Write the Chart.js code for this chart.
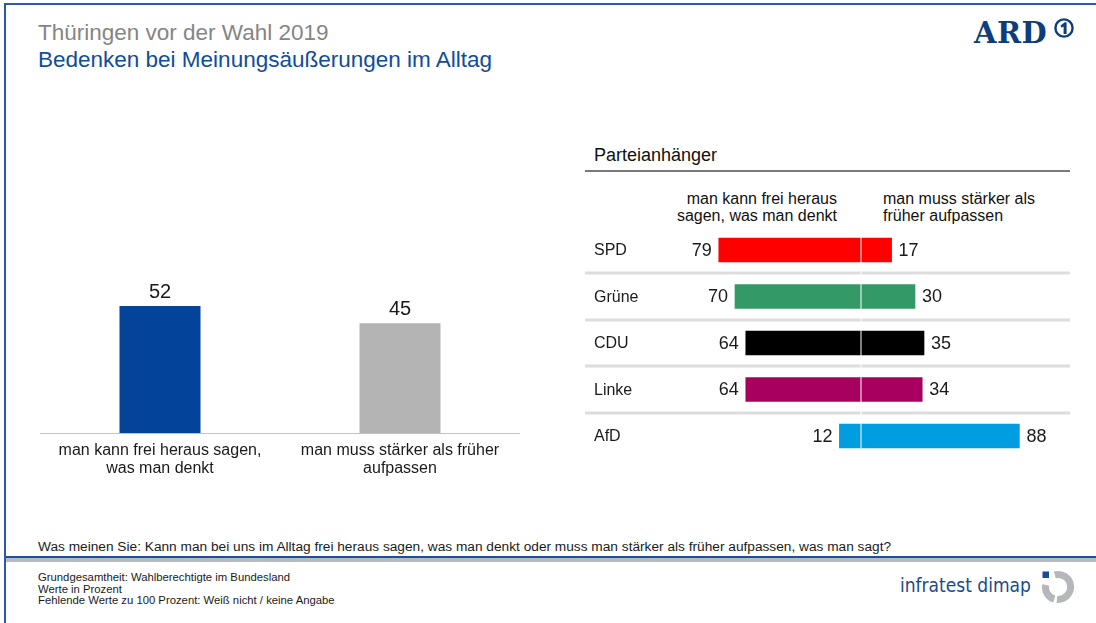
<!DOCTYPE html>
<html>
<head>
<meta charset="utf-8">
<script src="https://cdn.jsdelivr.net/npm/chart.js@4.4.1/dist/chart.umd.min.js"></script>
<style>
  html, body { margin:0; padding:0; background:#fff; }
  body { width:1096px; height:623px; position:relative; overflow:hidden; font-family:'Liberation Sans', Arial, sans-serif; }
  .abs { position:absolute; white-space:nowrap; }
</style>
</head>
<body>
<script>
// ---- data ----
const categories = ['man kann frei heraus sagen, was man denkt', 'man muss stärker als früher aufpassen'];
const categoryTickLabels = [['man kann frei heraus sagen,', 'was man denkt'], ['man muss stärker als früher', 'aufpassen']];
const totalValues = [52, 45];
const totalColors = ['#03449a', '#b4b4b4'];
const parties = ['SPD', 'Grüne', 'CDU', 'Linke', 'AfD'];
const freeValues = [79, 70, 64, 64, 12];
const carefulValues = [17, 30, 35, 34, 88];
const partyColors = ['#ff0000', '#339966', '#000000', '#a8005f', '#009ee0'];
const freeHeader = ['man kann frei heraus', 'sagen, was man denkt'];
const carefulHeader = ['man muss stärker als', 'früher aufpassen'];
</script>

<!-- frame -->
<div class="abs" style="left:4px;top:3px;width:1092px;height:620px;border-left:2px solid #2a5aa8;border-top:2px solid #2a5aa8;"></div>

<div class="abs" style="left:38px;top:20px;font-size:22.5px;line-height:26px;color:#858585;">Thüringen vor der Wahl 2019</div>
<div class="abs" style="left:38px;top:47px;font-size:22.5px;line-height:26px;color:#0f4c9c;">Bedenken bei Meinungsäußerungen im Alltag</div>

<!-- ARD logo -->
<div class="abs" style="left:974px;top:15px;font-family:'DejaVu Serif','Liberation Serif',serif;font-weight:bold;font-size:29px;line-height:36px;color:#0d3d7d;letter-spacing:0.5px;">ARD</div>
<svg class="abs" style="left:1050px;top:16px;" width="28" height="26" viewBox="0 0 28 26">
  <circle cx="14" cy="12" r="8.6" fill="none" stroke="#0d3d7d" stroke-width="2.4"/>
  <path d="M10.5 9.5 L14.8 6.2 L16.6 6.2 L16.6 18 L13.6 18 L13.6 10.4 L11.6 11.8 Z" fill="#0d3d7d"/>
</svg>

<!-- right panel texts -->
<div class="abs" style="left:594px;top:144px;font-size:18px;line-height:22px;color:#111;">Parteianhänger</div>
<div class="abs" style="left:585px;top:170px;width:485px;height:2px;background:#7a7a7a;"></div>
<div class="abs" id="hdrL" style="right:259px;top:190px;font-size:16px;line-height:17px;color:#111;text-align:right;"></div>
<div class="abs" id="hdrR" style="left:883px;top:190px;font-size:16px;line-height:17px;color:#111;text-align:left;"></div>

<canvas id="left" class="abs" style="left:40px;top:170px;" width="480" height="317"></canvas>
<canvas id="right" class="abs" style="left:585px;top:220px;" width="485" height="245"></canvas>

<!-- footer -->
<div class="abs" style="left:38px;top:539px;font-size:13.7px;line-height:16px;color:#1a1a1a;">Was meinen Sie: Kann man bei uns im Alltag frei heraus sagen, was man denkt oder muss man stärker als früher aufpassen, was man sagt?</div>
<div class="abs" style="left:6px;top:556px;width:1090px;height:2px;background:#1d4f9c;"></div>
<div class="abs" style="left:6px;top:558px;width:1090px;height:4px;background:#b5bbc2;"></div>
<div class="abs" style="left:38px;top:572px;font-size:11.3px;line-height:11.6px;color:#1a1a1a;">Grundgesamtheit: Wahlberechtigte im Bundesland<br>Werte in Prozent<br>Fehlende Werte zu 100 Prozent: Weiß nicht / keine Angabe</div>
<div class="abs" style="left:900px;top:573px;font-family:'Liberation Sans Narrow','DejaVu Sans Condensed',sans-serif;font-size:19px;line-height:24px;color:#1a4a8e;">infratest dimap</div>
<svg class="abs" style="left:1040px;top:568px;" width="40" height="40" viewBox="0 0 40 40">
  <rect x="2.5" y="3.5" width="6.5" height="6.5" fill="#1a4a9a"/>
  <path d="M14.8 6.9 A12.5 12.5 0 1 1 16.9 31.4" fill="none" stroke="#b4b8bb" stroke-width="7"/>
  <path d="M14.3 31.1 A12.5 12.5 0 0 1 5.7 16.8" fill="none" stroke="#b4b8bb" stroke-width="7"/>
</svg>

<script>
document.getElementById('hdrL').innerHTML = freeHeader.join('<br>');
document.getElementById('hdrR').innerHTML = carefulHeader.join('<br>');

Chart.defaults.font.family = "'Liberation Sans', Arial, sans-serif";
Chart.defaults.color = '#1a1a1a';

// left chart value labels
const topValuePlugin = {
  id: 'topValues',
  afterDatasetsDraw(chart) {
    const {ctx} = chart;
    const meta = chart.getDatasetMeta(0);
    ctx.save();
    ctx.font = "20px 'Liberation Sans', Arial, sans-serif";
    ctx.fillStyle = '#1a1a1a';
    ctx.textAlign = 'center';
    ctx.textBaseline = 'alphabetic';
    meta.data.forEach((bar, i) => {
      ctx.fillText(String(chart.data.datasets[0].data[i]), bar.x, bar.y - 8);
    });
    ctx.restore();
  }
};

new Chart(document.getElementById('left'), {
  type: 'bar',
  data: {
    labels: categoryTickLabels,
    datasets: [{ data: totalValues, backgroundColor: totalColors, barPercentage: 0.3375, categoryPercentage: 1 }]
  },
  options: {
    responsive: false, animation: false, devicePixelRatio: 1,
    layout: { padding: { top: 19, left: 0, right: 0, bottom: 0 } },
    plugins: { legend: { display: false }, tooltip: { enabled: false } },
    scales: {
      y: { display: false, min: 0, max: 100 },
      x: {
        grid: { display: false, drawTicks: false },
        border: { display: true, color: '#c4c4c4', width: 1 },
        ticks: { font: { size: 16, lineHeight: 1.125 }, color: '#1a1a1a', padding: 9, maxRotation: 0, autoSkip: false }
      }
    }
  },
  plugins: [topValuePlugin]
});

// right chart decorations
const partyPlugin = {
  id: 'partyDecor',
  beforeDatasetsDraw(chart) {
    const {ctx, scales: {y}} = chart;
    ctx.save();
    ctx.fillStyle = '#dddddd';
    for (let i = 1; i < parties.length; i++) {
      const yy = (y.getPixelForValue(i - 1) + y.getPixelForValue(i)) / 2;
      ctx.fillRect(0, Math.round(yy) - 1.5, chart.width, 3);
    }
    ctx.restore();
  },
  afterDatasetsDraw(chart) {
    const {ctx, chartArea, scales: {x, y}} = chart;
    const x0 = x.getPixelForValue(0);
    ctx.save();
    ctx.fillStyle = '#ffffff';
    ctx.fillRect(Math.round(x0) - 0.5, chartArea.top, 1, chartArea.bottom - chartArea.top);
    ctx.fillStyle = '#1a1a1a';
    ctx.textBaseline = 'middle';
    parties.forEach((p, i) => {
      const yy = y.getPixelForValue(i);
      ctx.font = "16px 'Liberation Sans', Arial, sans-serif";
      ctx.textAlign = 'left';
      ctx.fillText(p, 9, yy + 1);
      ctx.font = "18px 'Liberation Sans', Arial, sans-serif";
      ctx.textAlign = 'right';
      ctx.fillText(String(freeValues[i]), x.getPixelForValue(-freeValues[i]) - 7, yy + 1);
      ctx.textAlign = 'left';
      ctx.fillText(String(carefulValues[i]), x.getPixelForValue(carefulValues[i]) + 7, yy + 1);
    });
    ctx.restore();
  }
};

new Chart(document.getElementById('right'), {
  type: 'bar',
  data: {
    labels: parties,
    datasets: [
      { data: freeValues.map(v => -v), backgroundColor: partyColors, barThickness: 24 },
      { data: carefulValues, backgroundColor: partyColors, barThickness: 24 }
    ]
  },
  options: {
    indexAxis: 'y',
    responsive: false, animation: false, devicePixelRatio: 1,
    layout: { padding: { top: 6.75, bottom: 5.75, left: 96, right: 29 } },
    plugins: { legend: { display: false }, tooltip: { enabled: false } },
    scales: {
      x: { display: false, stacked: true, min: -100, max: 100 },
      y: { display: false, stacked: true }
    }
  },
  plugins: [partyPlugin]
});
</script>
</body>
</html>
